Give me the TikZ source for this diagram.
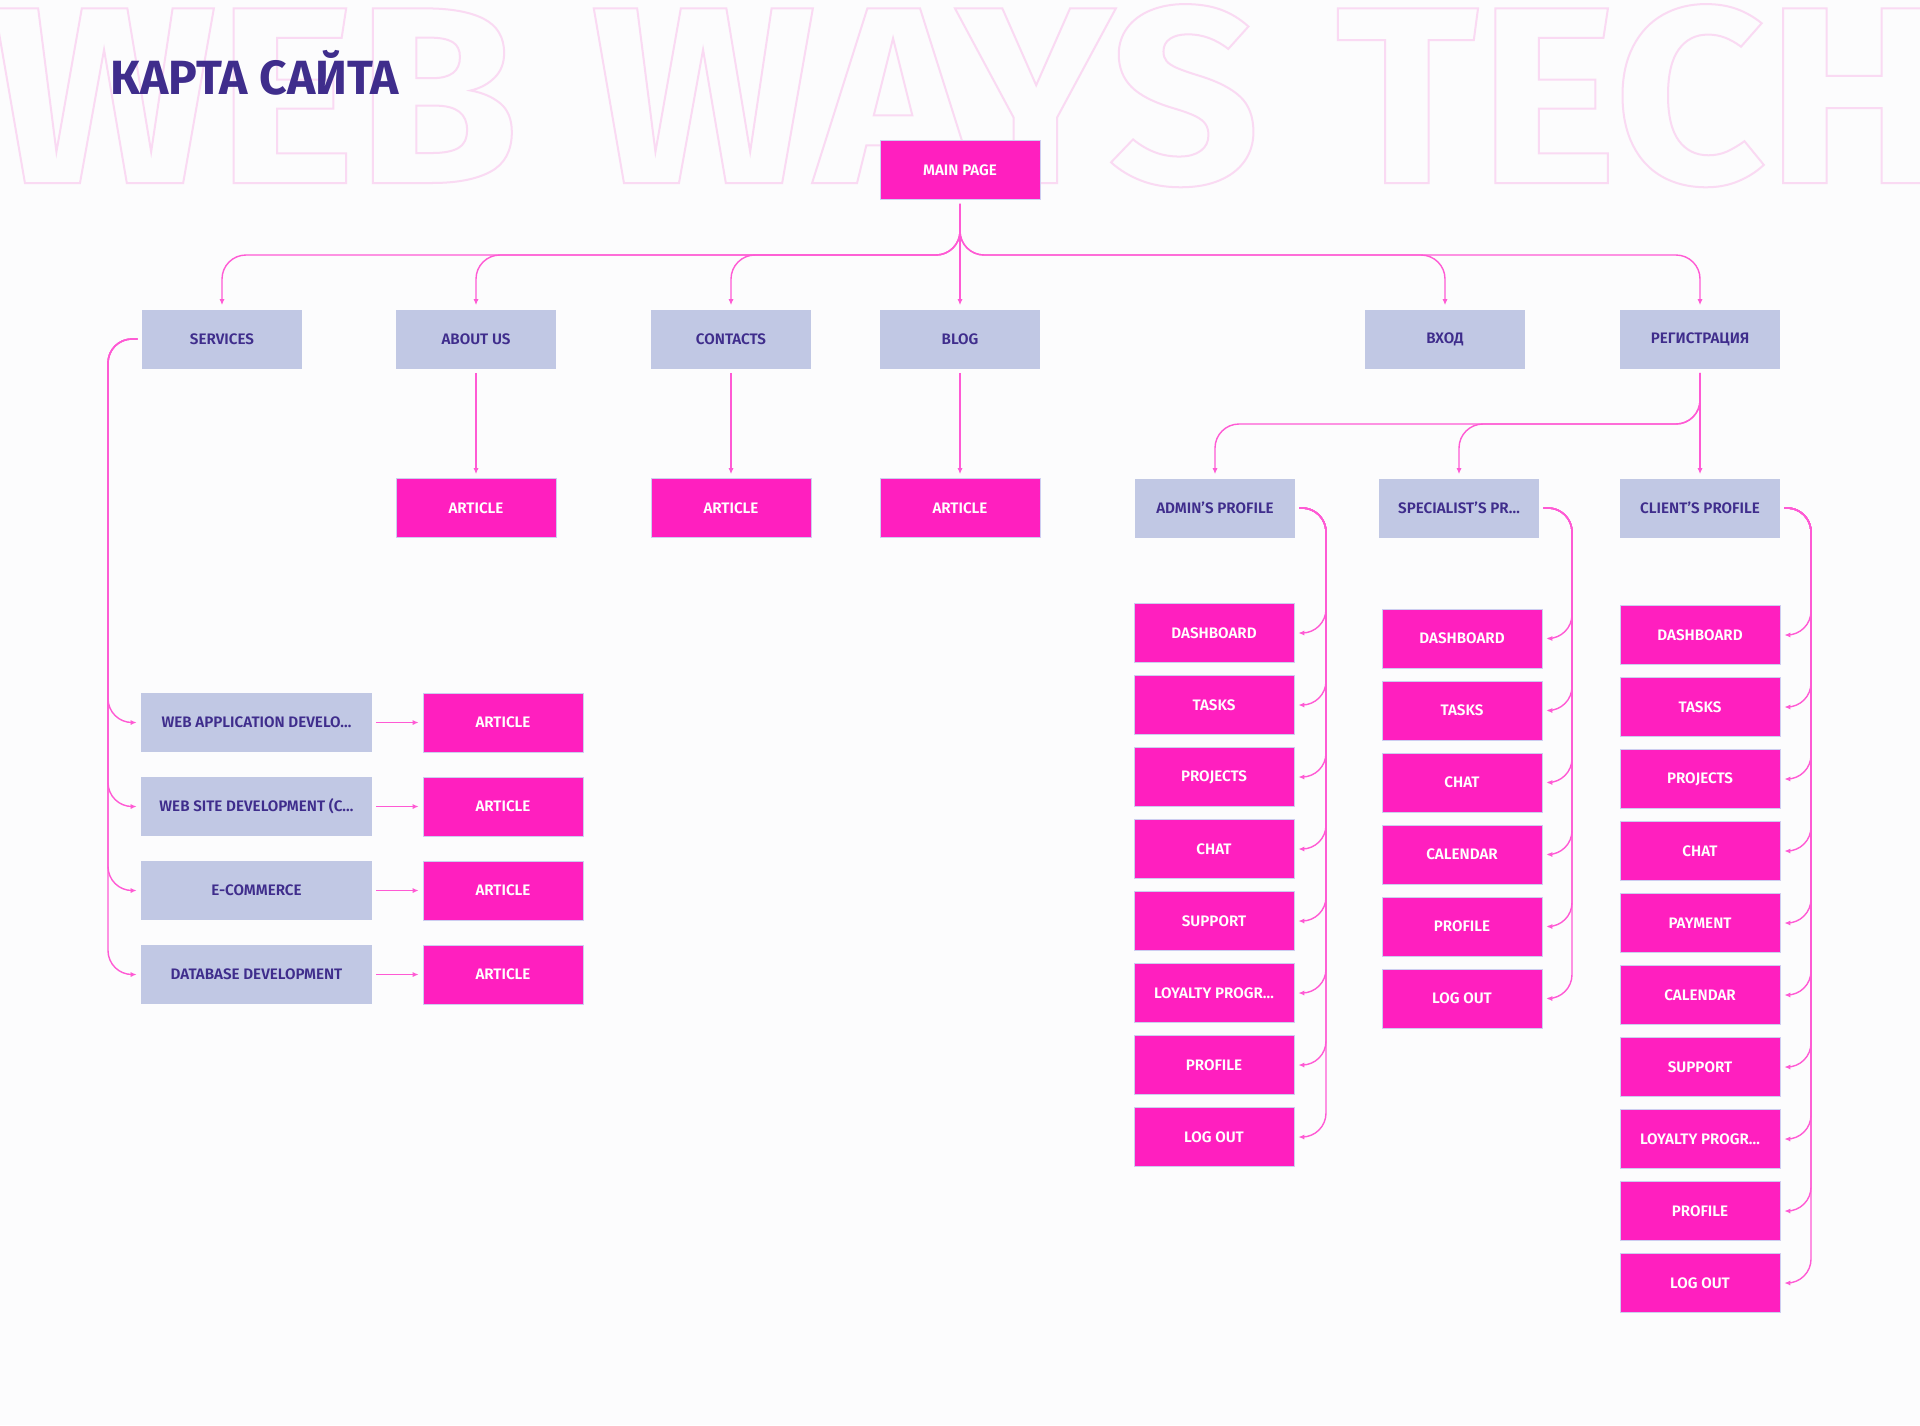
\documentclass[tikz,border=0pt]{standalone}
\usepackage{fontspec}
\setmainfont{Fira Sans}
\newfontfamily\semib{Fira Sans SemiBold}
\newfontfamily\ghostfont{Fira Sans}[FakeStretch=1.05]
\usepackage{tikz}
\usetikzlibrary{arrows.meta,positioning,calc}
\definecolor{pagebg}{RGB}{252,252,253}
\definecolor{hotpink}{RGB}{255,31,191}
\definecolor{linkpink}{RGB}{255,90,212}
\definecolor{lavender}{RGB}{193,200,228}
\definecolor{edgeblue}{RGB}{205,205,240}
\definecolor{inkblue}{RGB}{63,45,140}
\definecolor{ghostpink}{RGB}{250,218,243}
\newcommand{\outl}[1]{\special{pdf:literal direct 1 Tr 1 w}#1\special{pdf:literal direct 0 Tr}}

\begin{document}
\begin{tikzpicture}[
    x=0.5pt, y=-0.5pt,
    >={Latex[length=3pt,width=2.6pt]},
    pagebox/.style={fill=hotpink, draw=edgeblue, line width=0.4pt, text=white,
        font=\semib\fontsize{7.6}{8}\selectfont, minimum width=80pt, minimum height=29.5pt, inner sep=0pt},
    secbox/.style={pagebox, fill=lavender, draw=none, text=inkblue},
    link/.style={->, draw=linkpink, line width=0.7pt, shorten <=2pt, shorten >=2pt},
    elbow/.style={link, rounded corners=12pt},
    ghost/.style={anchor=base west, inner sep=0pt, text=ghostpink, font=\ghostfont\bfseries\fontsize{126}{126}\selectfont}
]
\fill[pagebg] (0,0) rectangle (1920,1425);
\useasboundingbox (0,0) rectangle (1920,1425);

% background lettering
\node[ghost] (wm1) at (-8,183) {\outl{WEB}};
\node[ghost] (wm2) at (591,183) {\outl{WAYS}};
\node[ghost] (wm3) at (1335,183) {\outl{TECH}};
\node[anchor=base west, inner sep=0pt, text=inkblue, font=\bfseries\fontsize{24}{30}\selectfont] (title) at (110,94) {КАРТА САЙТА};

\node[pagebox] (main) at (960,170) {MAIN PAGE};
\node[secbox] (services) at (222,339) {SERVICES};
\node[secbox] (about) at (476,339) {ABOUT US};
\node[secbox] (contacts) at (731,339) {CONTACTS};
\node[secbox] (blog) at (960,339) {BLOG};
\node[secbox] (vhod) at (1445,339) {ВХОД};
\node[secbox] (reg) at (1700,339) {РЕГИСТРАЦИЯ};
\coordinate (bus) at (0,255);
\coordinate (regbus) at (0,424);

\foreach \n in {services,about,contacts,vhod,reg}
    \draw[elbow] (main.south) -- (main.south |- bus) -- (\n.north |- bus) -- (\n.north);
\draw[link] (main.south) -- (blog.north);

\foreach \n/\x in {about/476,contacts/731,blog/960} {
    \node[pagebox] (\n-art) at (\x,508) {ARTICLE};
    \draw[link] (\n.south) -- (\n-art.north);
}

% profiles
\node[secbox] (admin) at (1215,508) {ADMIN’S PROFILE};
\node[secbox] (spec) at (1459,508) {SPECIALIST’S PR…};
\node[secbox] (client) at (1700,508) {CLIENT’S PROFILE};
\foreach \n in {admin,spec}
    \draw[elbow] (reg.south) -- (reg.south |- regbus) -- (\n.north |- regbus) -- (\n.north);
\draw[link] (reg.south) -- (client.north);

\coordinate (adtrunk) at (1326,0);
\coordinate (sptrunk) at (1572,0);
\coordinate (cltrunk) at (1811,0);
\coordinate (svtrunk) at (108,0);

\foreach \t [count=\i from 0] in {DASHBOARD,TASKS,PROJECTS,CHAT,SUPPORT,LOYALTY PROGR…,PROFILE,LOG OUT} {
    \node[pagebox] (ad\i) at (1214,633+72*\i) {\t};
    \draw[elbow] (admin.east) -| (ad\i.east -| adtrunk) -- (ad\i.east);
}
\foreach \t [count=\i from 0] in {DASHBOARD,TASKS,CHAT,CALENDAR,PROFILE,LOG OUT} {
    \node[pagebox] (sp\i) at (1462,638.5+72*\i) {\t};
    \draw[elbow] (spec.east) -| (sp\i.east -| sptrunk) -- (sp\i.east);
}
\foreach \t [count=\i from 0] in {DASHBOARD,TASKS,PROJECTS,CHAT,PAYMENT,CALENDAR,SUPPORT,LOYALTY PROGR…,PROFILE,LOG OUT} {
    \node[pagebox] (cl\i) at (1700,635+72*\i) {\t};
    \draw[elbow] (client.east) -| (cl\i.east -| cltrunk) -- (cl\i.east);
}

% services column
\foreach \t [count=\i from 0] in {WEB APPLICATION DEVELO…,WEB SITE DEVELOPMENT (C…,E-COMMERCE,DATABASE DEVELOPMENT} {
    \node[secbox, minimum width=115.5pt] (sv\i) at (256.5,722.5+84*\i) {\t};
    \node[pagebox] (sva\i) at (503,722.5+84*\i) {ARTICLE};
    \draw[elbow] (services.west) -| (sv\i.west -| svtrunk) -- (sv\i.west);
    \draw[link] (sv\i.east) -- (sva\i.west);
}
\end{tikzpicture}
\end{document}
